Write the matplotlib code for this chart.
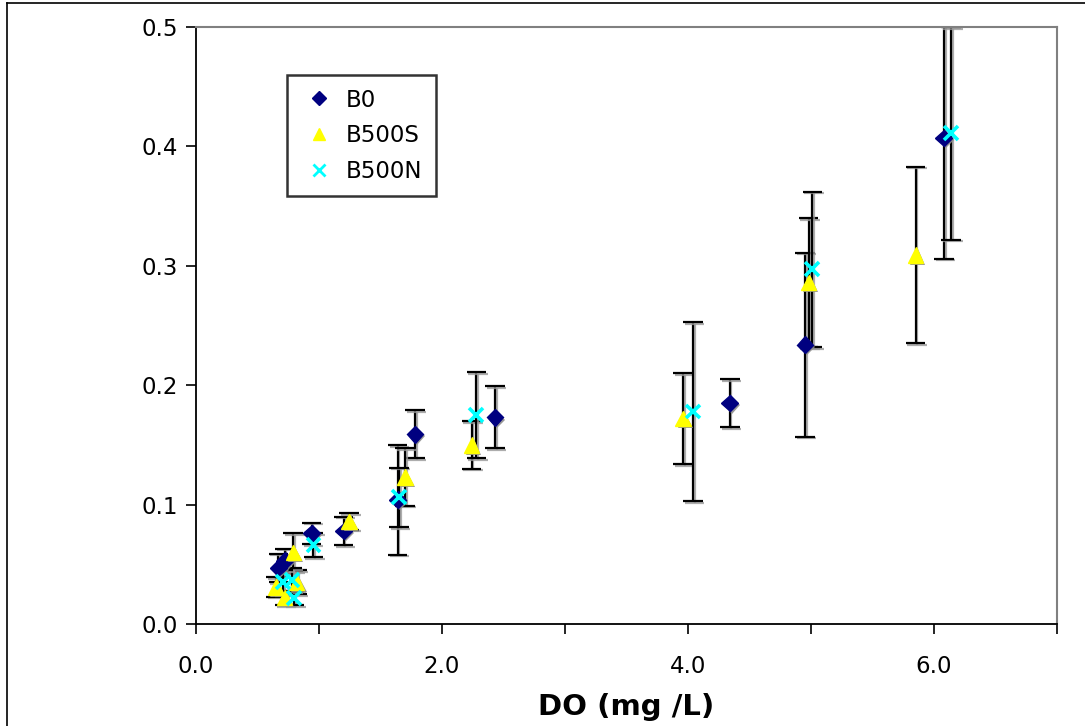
"""
DO vs rate scatter with error bars for B0 / B500S / B500N
"""
import matplotlib
matplotlib.use('Agg')
import matplotlib.pyplot as plt
import matplotlib.patheffects as pe
from matplotlib.lines import Line2D
from matplotlib.ticker import MultipleLocator, FormatStrFormatter

# data
b0_do = [0.67, 0.72, 0.94, 1.20, 1.64, 1.78, 2.43, 4.34, 4.95, 6.08]
b0_val = [0.047, 0.053, 0.076, 0.078, 0.104, 0.159, 0.173, 0.185, 0.234, 0.407]
b0_err = [0.012, 0.010, 0.009, 0.012, 0.046, 0.020, 0.026, 0.020, 0.077, 0.101]

b500s_do = [0.65, 0.72, 0.79, 0.82, 1.245, 1.70, 2.24, 3.96, 4.98, 5.85]
b500s_val = [0.031, 0.022, 0.060, 0.035, 0.086, 0.123, 0.150, 0.172, 0.286, 0.309]
b500s_err = [0.008, 0.006, 0.016, 0.010, 0.007, 0.024, 0.020, 0.038, 0.054, 0.074]

b500n_do = [0.71, 0.78, 0.80, 0.955, 1.65, 2.28, 4.04, 5.01, 6.14]
b500n_val = [0.035, 0.037, 0.022, 0.066, 0.106, 0.175, 0.178, 0.297, 0.411]
b500n_err = [0.010, 0.010, 0.006, 0.010, 0.025, 0.036, 0.075, 0.065, 0.089]

x_label = 'DO (mg /L)'

plt_dpi = 100
fig = plt.figure(figsize=(1085 / plt_dpi, 726 / plt_dpi), dpi=plt_dpi)
ax = fig.add_axes([196 / 1085, 102 / 726, 861 / 1085, 597 / 726])

# excel-ish drop shadow
shadow = [pe.SimplePatchShadow(offset=(1.5, -1.5), shadow_rgbFace='0.55', alpha=0.9),
          pe.Normal()]

series = [
    (b0_do, b0_val, b0_err, 'B0', 'D', '#000080', 8.5),
    (b500s_do, b500s_val, b500s_err, 'B500S', '^', '#FFFF00', 11),
    (b500n_do, b500n_val, b500n_err, 'B500N', 'x', '#00FFFF', 10),
]

handles = []
for xs, ys, es, name, mk, col, ms in series:
    cont = ax.errorbar(xs, ys, yerr=es, fmt='none', ecolor='black',
                       elinewidth=1.6, capsize=7, capthick=1.6, zorder=2)
    for art in cont.lines[1] + cont.lines[2]:
        art.set_path_effects([pe.SimpleLineShadow(offset=(1.2, -1.2), shadow_color='0.6', alpha=0.8),
                              pe.Normal()])
    if mk == 'x':
        ln, = ax.plot(xs, ys, linestyle='none', marker=mk, color=col,
                      markersize=ms, markeredgewidth=2.6, zorder=3)
    else:
        ln, = ax.plot(xs, ys, linestyle='none', marker=mk, color=col,
                      markeredgecolor=col, markersize=ms, zorder=3)
    ln.set_path_effects(shadow)
    handles.append(Line2D([], [], linestyle='none', marker=mk, color=col,
                          markeredgecolor=col, markersize=ms * 0.8,
                          markeredgewidth=2 if mk == 'x' else 1, label=name))

ax.set_xlim(0, 7)
ax.set_ylim(0, 0.5)

ax.xaxis.set_major_locator(MultipleLocator(2))
ax.xaxis.set_minor_locator(MultipleLocator(1))
ax.xaxis.set_major_formatter(FormatStrFormatter('%.1f'))
ax.yaxis.set_major_locator(MultipleLocator(0.1))
ax.yaxis.set_major_formatter(FormatStrFormatter('%.1f'))

ax.tick_params(axis='both', which='both', direction='out', length=7, width=1.2,
               labelsize=16.5)
ax.tick_params(axis='x', which='major', pad=15)
ax.tick_params(axis='y', which='major', pad=6)

ax.spines['left'].set_color('black')
ax.spines['bottom'].set_color('black')
ax.spines['left'].set_linewidth(1.3)
ax.spines['bottom'].set_linewidth(1.3)
ax.spines['top'].set_color('#808080')
ax.spines['right'].set_color('#808080')
ax.spines['top'].set_linewidth(1.5)
ax.spines['right'].set_linewidth(1.5)

ax.set_xlabel(x_label, fontsize=21, fontweight='bold', labelpad=11)

leg = ax.legend(handles=handles, loc='upper left', bbox_to_anchor=(0.106, 0.92),
                fontsize=16.5, frameon=True, fancybox=False, borderpad=0.6,
                labelspacing=0.55, handletextpad=0.35, handlelength=1.6,
                borderaxespad=0)
leg.get_frame().set_edgecolor('black')
leg.get_frame().set_linewidth(1.8)

# chart-area border (left and top edges are visible in the reference)
fig.add_artist(Line2D([7 / 1085, 7 / 1085], [0, 1 - 3 / 726], color='black', lw=1.2))
fig.add_artist(Line2D([7 / 1085, 1], [1 - 3 / 726, 1 - 3 / 726], color='black', lw=1.2))

plt.savefig('out.png', dpi=plt_dpi)
plt.close()
